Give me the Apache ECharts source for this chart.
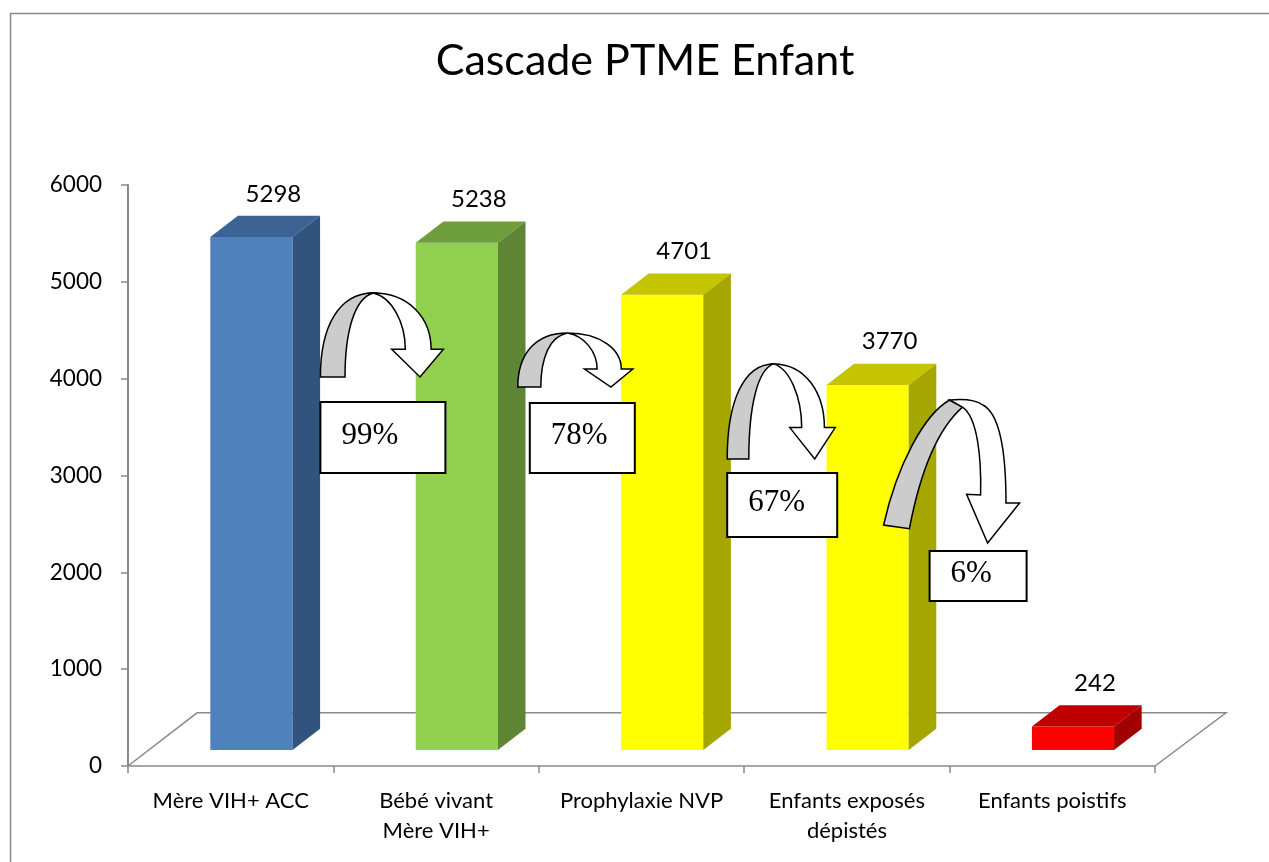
<!DOCTYPE html>
<html>
<head>
<meta charset="utf-8">
<title>Cascade PTME Enfant</title>
<script src="https://cdn.jsdelivr.net/npm/echarts@6/dist/echarts.min.js"></script>
<style>
  html, body { margin: 0; padding: 0; background: #fff; }
  #chart { width: 1269px; height: 862px; }
</style>
</head>
<body>
<div id="chart"></div>
<script>
// categories / values
const categories = ['Mère VIH+ ACC', 'Bébé vivant\nMère VIH+', 'Prophylaxie NVP', 'Enfants exposés\ndépistés', 'Enfants poistifs']
const values = [5298, 5238, 4701, 3770, 242]
// passage rates between two steps
const pctLabels = ['99%', '78%', '67%', '6%']
const yTicks = [0, 1000, 2000, 3000, 4000, 5000, 6000]

// front / top / side colour of each bar
const barColors = [
  ['#4F81BD', '#3C6393', '#31547E'],
  ['#92D050', '#6E9D3C', '#5F8634'],
  ['#FFFF00', '#C4C400', '#A6A600'],
  ['#FFFF00', '#C4C400', '#A6A600'],
  ['#FF0000', '#C00000', '#A20000'],
]

// where the curved arrows + boxes sit (dx in px from the category border, top in axis units)
const arrowLayout = [
  { dx: -13, top: 4885, w: 123, h: 84, kind: 'round', box: { dx: -13, top: 3759, w: 125, h: 71 } },
  { dx: -21, top: 4472, w: 115, h: 54, kind: 'round', box: { dx: -9, top: 3749, w: 105, h: 70 } },
  { dx: -17, top: 4152, w: 108, h: 95, kind: 'round', box: { dx: -17, top: 3026, w: 110, h: 64 } },
  { dx: -66, top: 3780, w: 136, h: 143, kind: 'tilted', box: { dx: -20, top: 2220, w: 97, h: 50 } },
]

const FONT = 'Lato'
const AXIS_COLOR = '#898989'

// depth of the fake 3d floor, relative to one category width
const FLOOR_DEPTH = 0.336
const FLOOR_SLOPE = 0.77

function floorDepth(cw) {
  const dx = cw * FLOOR_DEPTH
  return [dx, dx * FLOOR_SLOPE]
}

// path of one curved arrow, in a w x h box at x0,y0
function arrowPaths(x0, y0, w, h, kind) {
  const p = (x, y) => (x0 + x * w).toFixed(1) + ' ' + (y0 + y * h).toFixed(1)
  let gray, white
  if (kind === 'tilted') {
    gray = `M${p(0, 0.874)} C${p(0.1, 0.45)} ${p(0.3, 0.1)} ${p(0.485, 0)} L${p(0.58, 0.05)} C${p(0.4, 0.2)} ${p(0.27, 0.5)} ${p(0.19, 0.9)} Z`
    white = `M${p(0.485, 0)} C${p(0.6, -0.01)} ${p(0.68, 0)} ${p(0.73, 0.035)} C${p(0.86, 0.1)} ${p(0.9, 0.4)} ${p(0.9, 0.72)} L${p(1, 0.72)} L${p(0.765, 1)} L${p(0.61, 0.66)} L${p(0.713, 0.664)} C${p(0.72, 0.4)} ${p(0.69, 0.12)} ${p(0.58, 0.05)} Z`
  } else {
    gray = `M${p(0, 1)} C${p(0, 0.4)} ${p(0.15, 0)} ${p(0.43, 0)} C${p(0.28, 0.06)} ${p(0.2, 0.45)} ${p(0.2, 1)} Z`
    white = `M${p(0.43, 0)} C${p(0.72, 0)} ${p(0.9, 0.3)} ${p(0.9, 0.67)} L${p(1, 0.67)} L${p(0.81, 1)} L${p(0.58, 0.67)} L${p(0.69, 0.67)} C${p(0.69, 0.35)} ${p(0.58, 0.05)} ${p(0.43, 0)} Z`
  }
  return [gray, white]
}

// floor of the 3d plot (front edge is the x axis line)
function renderFloor(params, api) {
  const cs = params.coordSys
  const cw = cs.width / categories.length
  const [fdx, fdy] = floorDepth(cw)
  const x = cs.x
  const y = cs.y + cs.height
  return {
    type: 'polyline',
    shape: {
      points: [
        [x, y],
        [x + fdx, y - fdy],
        [x + cs.width + fdx + 2, y - fdy],
        [x + cs.width, y],
      ],
    },
    style: { stroke: AXIS_COLOR, lineWidth: 1.5, fill: null },
    silent: true,
  }
}

// one pseudo 3d bar : front, top and side faces + label
function renderBar(params, api) {
  const idx = api.value(0)
  const val = api.value(1)
  const cw = api.size([1, 0])[0]
  const [fdx, fdy] = floorDepth(cw)
  const base = api.coord([idx, 0])
  const top = api.coord([idx, val])
  const cx = base[0] + fdx * 0.3
  const bw = cw * 0.4
  const xl = cx - bw / 2
  const xr = cx + bw / 2
  const yb = base[1] - fdy * 0.3
  const yt = top[1] - fdy * 0.3
  const bdx = fdx * 0.4
  const bdy = fdy * 0.4
  const col = barColors[idx]
  return {
    type: 'group',
    children: [
      {
        type: 'rect',
        shape: { x: xl, y: yt, width: bw, height: yb - yt },
        style: { fill: col[0] },
      },
      {
        type: 'polygon',
        shape: { points: [[xl, yt], [xr, yt], [xr + bdx, yt - bdy], [xl + bdx, yt - bdy]] },
        style: { fill: col[1] },
      },
      {
        type: 'polygon',
        shape: { points: [[xr, yt], [xr + bdx, yt - bdy], [xr + bdx, yb - bdy], [xr, yb]] },
        style: { fill: col[2] },
      },
      {
        type: 'text',
        x: cx + 22,
        y: yt - bdy - 22,
        style: {
          text: String(val),
          fontFamily: FONT,
          fontSize: 24,
          fill: '#000',
          align: 'center',
          verticalAlign: 'middle',
        },
      },
    ],
  }
}

// curved arrow and the percent box between two bars
function renderArrow(params, api) {
  const i = api.value(0)
  const lay = arrowLayout[i]
  const cw = api.size([1, 0])[0]
  const border = api.coord([i, 0])[0] + cw / 2
  const ay = api.coord([i, lay.top])[1]
  const by = api.coord([i, lay.box.top])[1]
  const ax = border + lay.dx
  const bx = border + lay.box.dx
  const paths = arrowPaths(ax, ay, lay.w, lay.h, lay.kind)
  return {
    type: 'group',
    children: [
      {
        type: 'rect',
        shape: { x: bx, y: by, width: lay.box.w, height: lay.box.h },
        style: { fill: '#fff', stroke: '#000', lineWidth: 2 },
      },
      {
        type: 'text',
        x: bx + 21,
        y: by + lay.box.h / 2 - 2,
        style: {
          text: pctLabels[i],
          fontFamily: 'Liberation Serif',
          fontSize: 31,
          fill: '#000',
          align: 'left',
          verticalAlign: 'middle',
        },
      },
      {
        type: 'path',
        shape: { pathData: paths[0] },
        style: { fill: '#CCCCCC', stroke: '#000', lineWidth: 1.5 },
      },
      {
        type: 'path',
        shape: { pathData: paths[1] },
        style: { fill: '#FFFFFF', stroke: '#000', lineWidth: 1.5 },
      },
    ],
  }
}

const chart = echarts.init(document.getElementById('chart'), null, { renderer: 'canvas' })

const option = {
  animation: false,
  backgroundColor: '#fff',
  title: {
    text: 'Cascade PTME Enfant',
    left: 640,
    top: 35,
    textAlign: 'center',
    textStyle: { fontFamily: FONT, fontSize: 43, fontWeight: 'normal', color: '#000' },
  },
  graphic: [
    {
      type: 'rect',
      silent: true,
      shape: { x: 10.5, y: 13.5, width: 1300, height: 900 },
      style: { fill: null, stroke: '#8a8a8a', lineWidth: 1.5 },
    },
  ],
  grid: { left: 128, right: 114, top: 185, bottom: 96 },
  xAxis: {
    type: 'category',
    data: categories,
    axisLine: { show: true, lineStyle: { color: AXIS_COLOR, width: 1.5 } },
    axisTick: { show: true, interval: 0, length: 7, lineStyle: { color: AXIS_COLOR, width: 1.5 } },
    axisLabel: {
      interval: 0,
      hideOverlap: false,
      color: '#000',
      fontFamily: FONT,
      fontSize: 22,
      lineHeight: 30,
      margin: 20,
    },
    splitLine: { show: false },
  },
  yAxis: {
    type: 'value',
    min: yTicks[0],
    max: yTicks[yTicks.length - 1],
    interval: yTicks[1] - yTicks[0],
    axisLine: { show: true, lineStyle: { color: AXIS_COLOR, width: 2 } },
    axisTick: { show: true, length: 7, lineStyle: { color: AXIS_COLOR, width: 1.5 } },
    axisLabel: {
      color: '#000',
      fontFamily: FONT,
      fontSize: 22.5,
      margin: 26,
      formatter: (v) => String(v),
    },
    splitLine: { show: false },
  },
  series: [
    {
      name: 'floor',
      type: 'custom',
      z: 1,
      silent: true,
      renderItem: renderFloor,
      data: [[0, 0]],
    },
    {
      name: 'Cascade',
      type: 'custom',
      z: 2,
      renderItem: renderBar,
      encode: { x: 0, y: 1 },
      data: values.map((v, i) => [i, v]),
    },
    {
      name: 'taux',
      type: 'custom',
      z: 3,
      silent: true,
      renderItem: renderArrow,
      encode: { x: 0, y: 1 },
      data: pctLabels.map((p, i) => [i, 0]),
    },
  ],
}

chart.setOption(option)
</script>
</body>
</html>
